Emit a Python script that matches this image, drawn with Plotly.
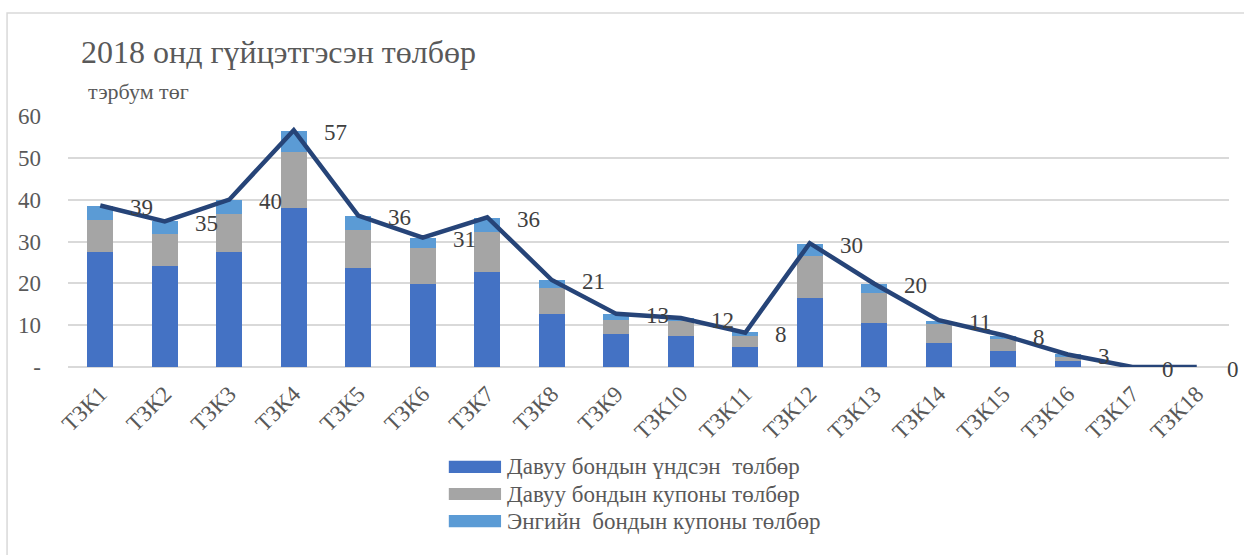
import plotly.graph_objects as go

categories = ["ТЗК1", "ТЗК2", "ТЗК3", "ТЗК4", "ТЗК5", "ТЗК6", "ТЗК7", "ТЗК8", "ТЗК9",
              "ТЗК10", "ТЗК11", "ТЗК12", "ТЗК13", "ТЗК14", "ТЗК15", "ТЗК16", "ТЗК17", "ТЗК18"]
principal = [27.5, 24.2, 27.5, 38.1, 23.7, 19.9, 22.7, 12.6, 7.8, 7.3, 4.9, 16.4, 10.6, 5.8, 3.9, 1.5, 0, 0]
pref_coupon = [7.7, 7.7, 9.1, 13.4, 9.1, 8.6, 9.6, 6.2, 3.4, 3.6, 2.4, 10.1, 7.2, 4.4, 2.9, 1.0, 0, 0]
ord_coupon = [3.3, 2.9, 3.4, 4.8, 3.4, 2.4, 3.4, 1.9, 1.4, 0.8, 1.0, 2.9, 2.0, 0.9, 0.5, 0.5, 0, 0]
total = [38.6, 34.8, 40.0, 56.6, 36.2, 30.9, 35.8, 20.8, 12.7, 11.7, 8.2, 29.6, 19.9, 11.2, 7.6, 3.0, 0, 0]
series_names = ["Давуу бондын үндсэн  төлбөр", "Давуу бондын купоны төлбөр", "Энгийн  бондын купоны төлбөр"]
series_colors = ["#4472C4", "#A5A5A5", "#5B9BD5"]
ytick_vals = [0, 10, 20, 30, 40, 50, 60]
ytick_text = ["-", "10", "20", "30", "40", "50", "60"]
title_text = "2018 онд гүйцэтгэсэн төлбөр"
unit_text = "тэрбум төг"

FONT = "Liberation Serif, Times New Roman, serif"
TXT = "#595959"

fig = go.Figure()
for vals, name, col in zip([principal, pref_coupon, ord_coupon], series_names, series_colors):
    fig.add_trace(go.Bar(x=categories, y=vals, name=name, marker_color=col,
                         marker_line_width=0, width=0.4, showlegend=False))
fig.add_trace(go.Scatter(x=categories, y=total, mode="lines",
                         line=dict(color="#264478", width=4.5), showlegend=False))

annotations = []
for c, v in zip(categories, total):
    annotations.append(dict(x=c, y=v, text=str(int(round(v))), showarrow=False,
                            xanchor="left", xshift=28, yshift=-2,
                            font=dict(family=FONT, size=23, color="#404040")))

annotations.append(dict(xref="paper", yref="paper", x=0.0095, y=1.255, xanchor="left", yanchor="middle",
                        text=title_text, showarrow=False, font=dict(family=FONT, size=32, color=TXT)))
annotations.append(dict(xref="paper", yref="paper", x=0.0155, y=1.096, xanchor="left", yanchor="middle",
                        text=unit_text, showarrow=False, font=dict(family=FONT, size=22, color=TXT)))

shapes = []
leg_y = [-0.398, -0.506, -0.614]
for name, col, yy in zip(series_names, series_colors, leg_y):
    shapes.append(dict(type="rect", xref="paper", yref="paper", x0=0.328, x1=0.373,
                       y0=yy - 0.024, y1=yy + 0.024, fillcolor=col, line_width=0))
    annotations.append(dict(xref="paper", yref="paper", x=0.376, y=yy, xanchor="left", yanchor="middle",
                            text=name, showarrow=False, font=dict(family=FONT, size=23, color=TXT)))

shapes.append(dict(type="rect", xref="paper", yref="paper", x0=-0.0525, x1=1.2, y0=-1.5, y1=1.41,
                   line=dict(color="#D9D9D9", width=1.5), fillcolor="rgba(0,0,0,0)", layer="below"))

fig.update_layout(
    width=1244, height=555,
    margin=dict(l=68, r=15, t=116, b=188, autoexpand=False),
    barmode="stack",
    plot_bgcolor="white", paper_bgcolor="white",
    font=dict(family=FONT, color=TXT),
    annotations=annotations,
    shapes=shapes,
    showlegend=False,
)
fig.update_xaxes(range=[-0.5, 17.5], tickangle=-45, tickfont=dict(family=FONT, size=23, color=TXT),
                 showgrid=False, showline=False, ticks="", ticklabelstandoff=8, automargin=False)
fig.update_yaxes(range=[0, 60], tickvals=ytick_vals, ticktext=ytick_text,
                 tickfont=dict(family=FONT, size=23, color=TXT),
                 showgrid=True, gridcolor="#D9D9D9", gridwidth=1.5,
                 zeroline=True, zerolinecolor="#D9D9D9", zerolinewidth=1.5,
                 showline=False, ticks="", ticklabelstandoff=26, automargin=False)

fig.write_html("out.html", config={"displayModeBar": False},
               post_script="document.body.style.margin='0';document.body.style.overflow='hidden';")
